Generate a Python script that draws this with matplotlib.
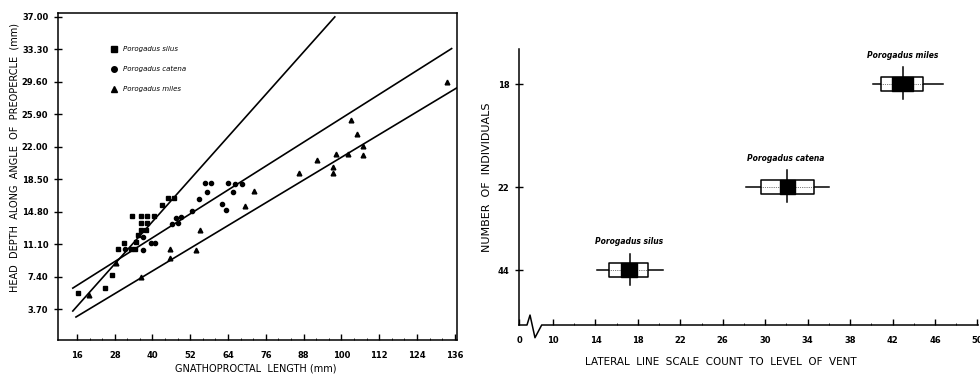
import numpy as np
import matplotlib
matplotlib.use("Agg")
import matplotlib.pyplot as plt

# --- left panel: head depth vs gnathoproctal length ---
silus_x = [16.2, 24.9, 27.2, 29.1, 30.9, 33.1, 34.4, 34.7, 35.3, 36.3, 37.8, 36.5,
           38.4, 33.4, 36.5, 38.4, 40.5, 42.9, 45.0, 46.9]
silus_y = [5.5, 6.06, 7.6, 10.5, 11.26, 10.5, 10.5, 11.4, 12.1, 12.7, 12.7, 13.5,
           13.5, 14.3, 14.3, 14.3, 14.3, 15.6, 16.4, 16.4]

catena_x = [31.2, 37.0, 37.0, 39.4, 40.8, 46.1, 48.2, 47.4, 49.2, 52.7, 54.8, 56.6,
            58.5, 57.2, 62.2, 63.3, 64.0, 65.6, 66.2, 68.3]
catena_y = [10.6, 11.9, 10.4, 11.26, 11.2, 13.4, 13.5, 14.1, 14.2, 14.9, 16.3, 18.03,
            18.03, 17.1, 15.7, 15.0, 18.1, 17.0, 17.9, 17.9]

miles_x = [19.9, 28.4, 36.3, 45.5, 45.5, 53.8, 55.0, 69.3, 72.3, 86.5, 92.4, 97.4,
           97.4, 98.4, 102.1, 103.2, 104.8, 106.9, 106.9, 133.4]
miles_y = [5.3, 8.9, 7.4, 10.5, 9.55, 10.4, 12.7, 15.4, 17.2, 19.2, 20.7, 19.9,
           19.2, 21.4, 21.4, 25.25, 23.65, 22.3, 21.3, 29.6]

# regression lines: start x, end x, intercept, slope
fit_start = [14.7, 14.7, 15.7]
fit_end = [97.9, 135.0, 137.0]
fit_icpt = [-2.45, 2.75, -0.60]
fit_slope = [0.403, 0.227, 0.216]

species = ["Porogadus silus", "Porogadus catena", "Porogadus miles"]
markers = ["s", "o", "^"]

left_xticks = [16, 28, 40, 52, 64, 76, 88, 100, 112, 124, 136]
left_yticks = [3.7, 7.4, 11.1, 14.8, 18.5, 22.2, 25.9, 29.6, 33.3, 37.0]
left_ylabels = ["3.70", "7.40", "11.10", "14.80", "18.50", "22.00", "25.90",
                "29.60", "33.30", "37.00"]

# --- right panel: lateral line scale counts ---
n_individuals = ["44", "22", "18"]
range_lo = [14.18, 28.19, 40.13]
range_hi = [20.34, 36.04, 46.79]
sd_lo = [15.31, 29.6, 40.89]
sd_hi = [18.98, 34.6, 44.9]
se_lo = [16.41, 31.39, 41.98]
se_hi = [17.89, 32.81, 43.9]
means = [17.26, 32.03, 43.02]
right_xticks = [0, 10, 14, 18, 22, 26, 30, 34, 38, 42, 46, 50]

rows = [1.99, 5.0, 8.73]

tickfont = dict(fontsize=6, fontweight="bold")

fig = plt.figure(figsize=(9.8, 3.74), dpi=100)

# ---------------- left ----------------
ax = fig.add_axes([0.0592, 0.0909, 0.4071, 0.8743])
for i, (xs, ys) in enumerate([(silus_x, silus_y), (catena_x, catena_y), (miles_x, miles_y)]):
    ax.plot(xs, ys, linestyle="none", marker=markers[i], color="black",
            markersize=3.4 if markers[i] != "o" else 3.0, zorder=3)
    xx = np.array([fit_start[i], fit_end[i]])
    ax.plot(xx, fit_icpt[i] + fit_slope[i] * xx, color="black", lw=1.2, zorder=2)

ax.set_xlim(10, 136.7)
ax.set_ylim(0.17, 37.45)
ax.set_xticks(left_xticks)
ax.set_xticklabels([str(t) for t in left_xticks], **tickfont)
ax.set_xticks(np.arange(20, 136, 4), minor=True)
ax.set_yticks(left_yticks)
ax.set_yticklabels(left_ylabels, **tickfont)
ax.tick_params(axis="x", which="major", direction="in", length=4, width=1, pad=8)
ax.tick_params(axis="x", which="minor", direction="in", length=1.5, width=0.6)
ax.tick_params(axis="y", direction="inout", length=6, width=1, pad=4)
for s in ax.spines.values():
    s.set_linewidth(1.1)
ax.set_xlabel("GNATHOPROCTAL  LENGTH (mm)", fontsize=7)
ax.xaxis.set_label_coords(0.496, -0.073)
ax.set_ylabel("HEAD  DEPTH  ALONG  ANGLE  OF  PREOPERCLE  (mm)", fontsize=7, va="center")
ax.yaxis.set_label_coords(-0.108, 0.557)

# legend drawn by hand
for i, name in enumerate(species):
    yy = 0.89 - i * 0.061
    ax.plot([0.14], [yy], transform=ax.transAxes, marker=markers[i], color="black",
            markersize=4.0, linestyle="none")
    ax.text(0.163, yy, name, transform=ax.transAxes, fontsize=5, style="italic",
            va="center", ha="left")

# ---------------- right ----------------
def fwd(v):
    v = np.asarray(v, dtype=float)
    return np.where(v >= 10, v, 10 - (10 - v) * 0.32)

def inv(u):
    u = np.asarray(u, dtype=float)
    return np.where(u >= 10, u, 10 - (10 - u) / 0.32)

ax2 = fig.add_axes([0.5296, 0.131, 0.4684, 0.738])
ax2.set_xscale("function", functions=(fwd, inv))
ax2.set_xlim(0, 50.06)
ax2.set_ylim(0, 10)

h = 0.25
for i in range(3):
    y = rows[i]
    ax2.plot([range_lo[i], range_hi[i]], [y, y], color="black", lw=1.1, zorder=1)
    ax2.fill_between([sd_lo[i], sd_hi[i]], y - h, y + h, facecolor="white",
                     edgecolor="black", lw=1.1, zorder=2)
    ax2.plot([sd_lo[i], sd_hi[i]], [y, y], color="black", lw=0.5, ls=":", zorder=3)
    ax2.fill_between([se_lo[i], se_hi[i]], y - h, y + h, facecolor="black",
                     edgecolor="black", lw=1.0, zorder=4)
    ax2.plot([means[i], means[i]], [y - 0.55, y + 0.6], color="black", lw=1.1, zorder=5)
    ax2.text(means[i] - 0.1, y + 1.05, species[i], fontsize=5.5, style="italic",
             fontweight="bold", ha="center", va="center")

ax2.set_yticks(rows)
ax2.set_yticklabels(n_individuals, **tickfont)
ax2.set_xticks(right_xticks)
ax2.set_xticklabels([str(t) for t in right_xticks], **tickfont)
ax2.set_xticks(np.arange(12, 50, 4), minor=True)
ax2.tick_params(axis="x", which="major", direction="in", length=4, width=1, pad=8)
ax2.tick_params(axis="x", which="minor", direction="in", length=1.5, width=0.6)
ax2.tick_params(axis="y", direction="inout", length=6, width=1, pad=4)
ax2.spines["top"].set_visible(False)
ax2.spines["right"].set_visible(False)
ax2.spines["bottom"].set_visible(False)
ax2.spines["left"].set_linewidth(1.1)

# x axis with a break between 0 and 10
bx = [0, 0.0174, 0.024, 0.0348, 0.0494, 1.0]
by = [0, 0, 0.036, -0.046, 0, 0]
ax2.plot(bx, by, transform=ax2.transAxes, color="black", lw=1.1, clip_on=False)

ax2.set_xlabel("LATERAL  LINE  SCALE  COUNT  TO  LEVEL  OF  VENT", fontsize=7.5)
ax2.xaxis.set_label_coords(0.44, -0.116)
ax2.set_ylabel("NUMBER  OF  INDIVIDUALS", fontsize=8, va="center")
ax2.yaxis.set_label_coords(-0.07, 0.536)

fig.savefig("out.png", dpi=100)
